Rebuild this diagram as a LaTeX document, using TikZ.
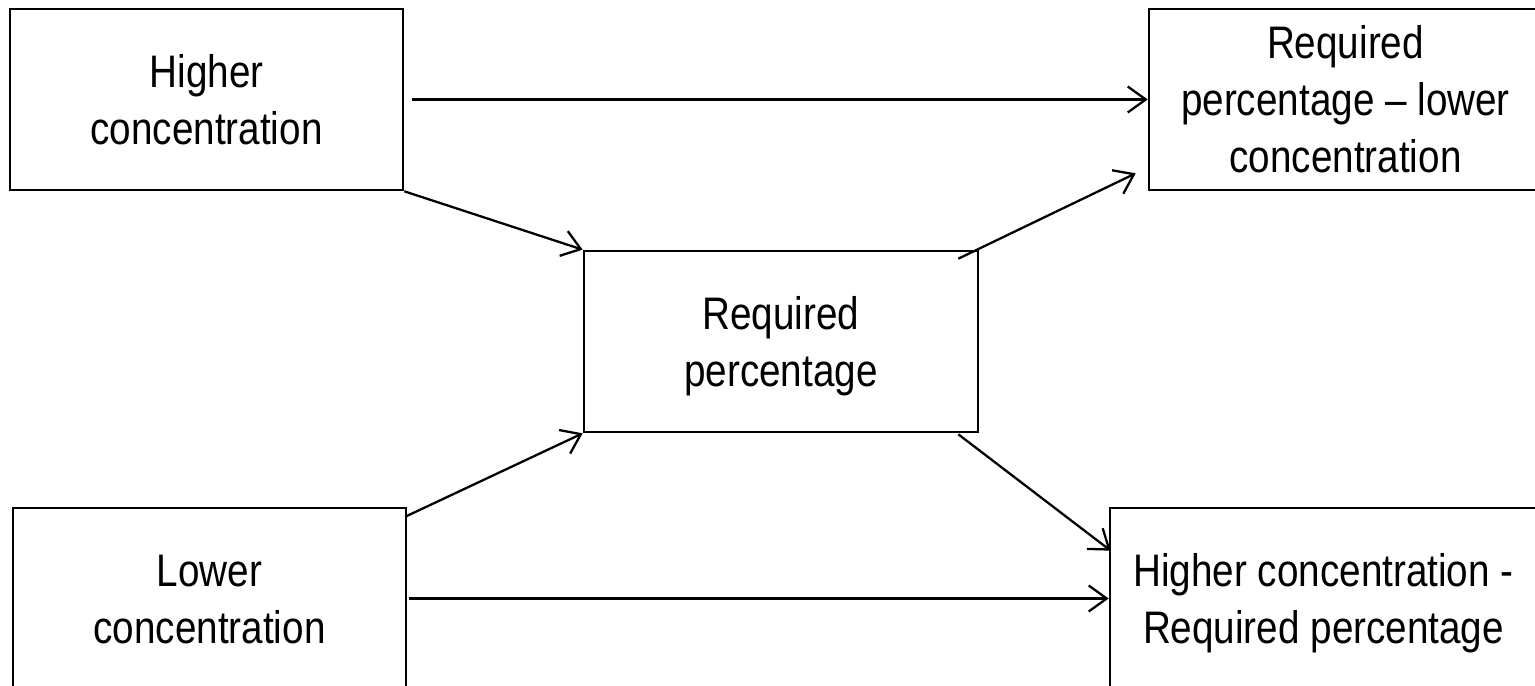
\documentclass[tikz,border=0pt]{standalone}
\usepackage{fontspec}
\usepackage{graphicx}
\setmainfont{Liberation Sans}
\usetikzlibrary{arrows.meta,calc}
\newcommand{\tallText}[1]{\raisebox{0pt}[\dimexpr\height+0.2cm\relax][\depth]{\scalebox{1}[1.18]{\fontsize{22}{27.5}\selectfont\begin{tabular}{@{}c@{}}#1\end{tabular}}}}
\begin{document}
\begin{tikzpicture}[x=0.02cm,y=-0.02cm,
  box/.style={draw,line width=1.5pt,rectangle,inner sep=0pt,minimum height=181*0.02cm,
    align=center},
  conn/.style={line width=1.3pt,-{Straight Barb[length=0.36cm,width=0.52cm,line width=1.3pt]}}]
\useasboundingbox (0,0) rectangle (1535,686);
\node[box,minimum width=393*0.02cm] (A) at (206.5,99.5) {\tallText{Higher\\concentration}};
\node[box,minimum width=393*0.02cm] (B) at (1345.5,99.5) {\tallText{Required\\percentage – lower\\concentration}};
\node[box,minimum width=394*0.02cm] (C) at (781,341.5) {\tallText{Required\\percentage}};
\node[box,minimum width=393*0.02cm] (D) at (209.5,598.5) {\tallText{Lower\\concentration}};
\node[box,minimum width=427*0.02cm] (E) at (1323.5,598.5) {\tallText{Higher concentration -\\Required percentage}};
\draw[conn] ($(A.east)+(8,0)$) -- (B.west);
\draw[conn] (A.south east) -- (C.north west);
\draw[conn] ($(C.north east)+(-21,9)$) -- ($(B.south west)+(-12,-18)$);
\draw[conn] ($(D.north east)+(-2,10)$) -- (C.south west);
\draw[conn] ($(C.south east)+(-21,1)$) -- ($(E.north west)+(2,44)$);
\draw[conn] ($(D.east)+(2,0)$) -- (E.west);
\end{tikzpicture}
\end{document}
